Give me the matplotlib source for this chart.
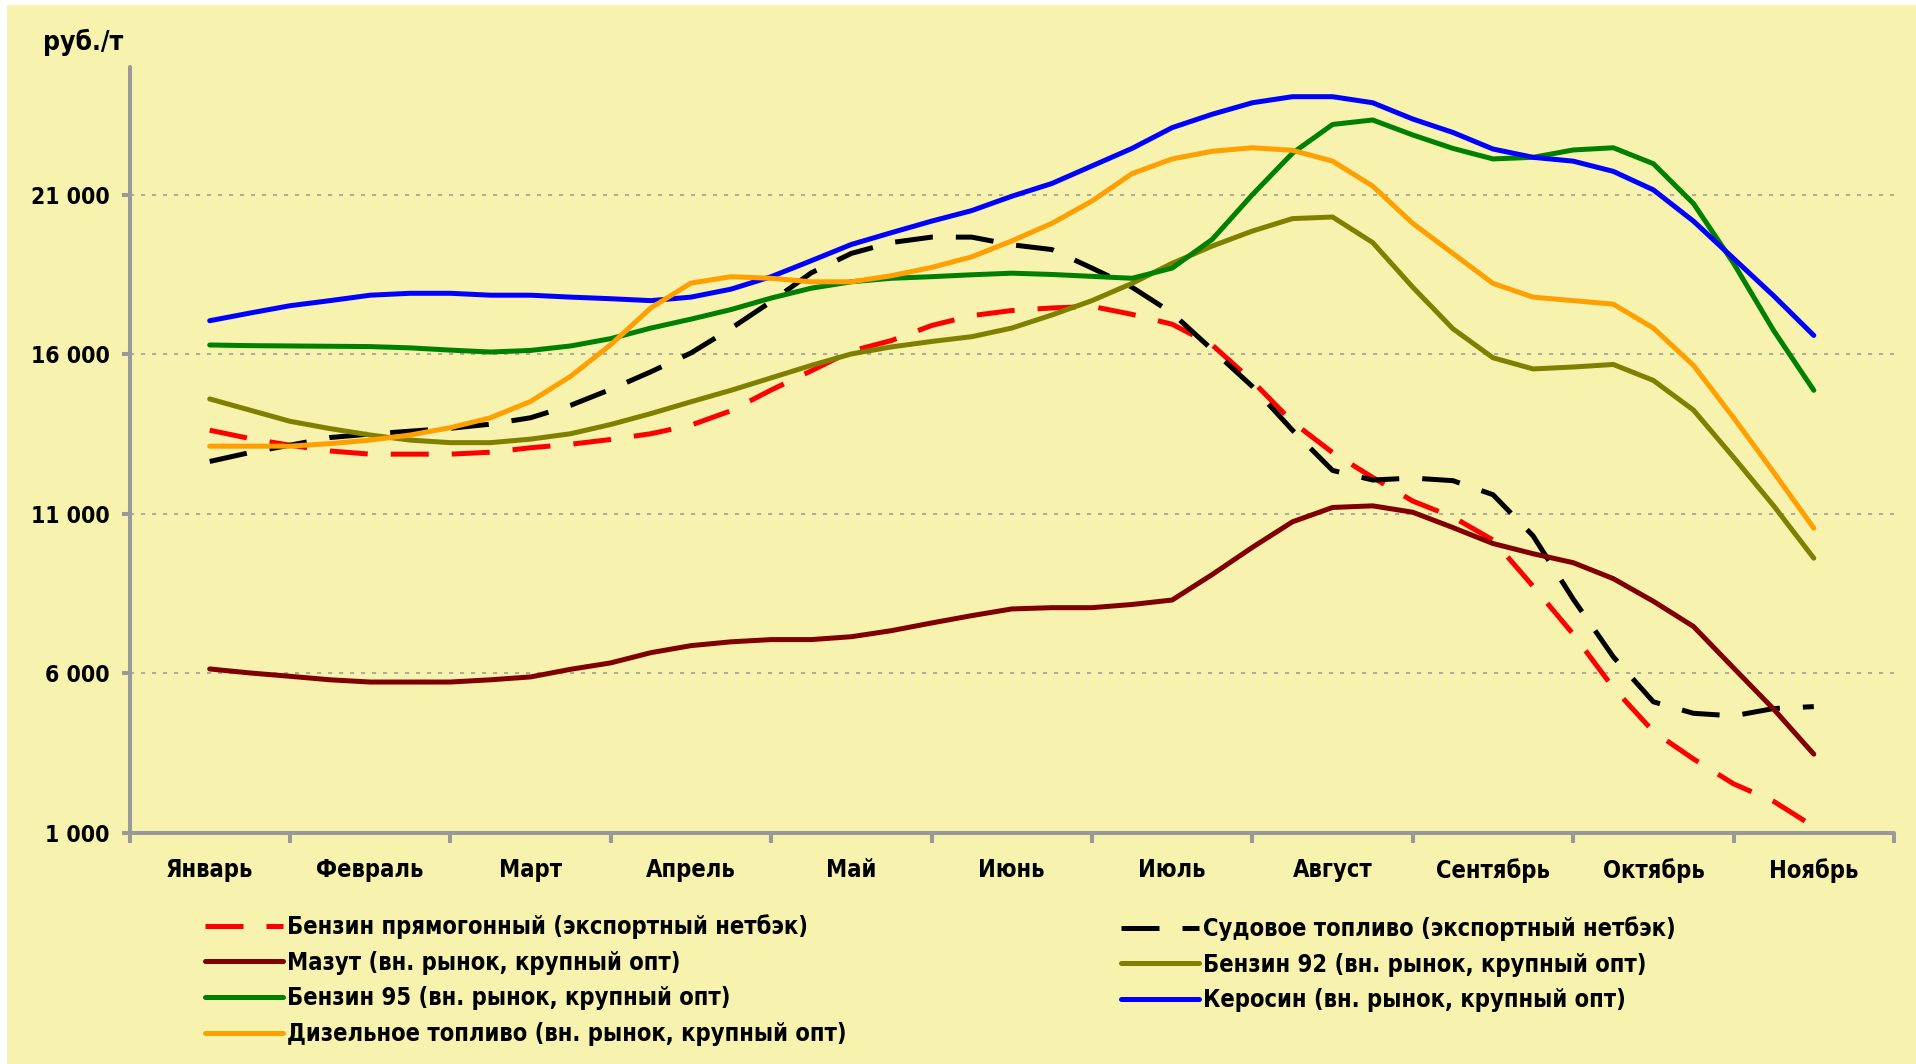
import matplotlib
matplotlib.use("Agg")
import matplotlib.pyplot as plt
from matplotlib import font_manager as fm
from matplotlib.patches import Rectangle
import numpy as np

# ---------------- data ----------------
months = ["Январь", "Февраль", "Март", "Апрель", "Май", "Июнь",
          "Июль", "Август", "Сентябрь", "Октябрь", "Ноябрь"]
points_per_month = 4   # weekly observations, 4 per month slot

benzin_pryamogon = [13620, 13360, 13150, 12970, 12870, 12870, 12870, 12930, 13070, 13180,
                    13330, 13510, 13780, 14230, 14880, 15480, 16100, 16430, 16900, 17210,
                    17370, 17450, 17500, 17250, 16940, 16290, 15160, 13880, 12920, 12140,
                    11400, 10900, 10180, 8730, 7230, 5550, 4180, 3320, 2540, 1990, 1200]
sudovoe = [12640, 12920, 13150, 13390, 13500, 13590, 13680, 13810, 14010, 14400,
           14900, 15450, 16040, 16810, 17650, 18550, 19160, 19500, 19670, 19670,
           19430, 19280, 18700, 18100, 17290, 16140, 14990, 13620, 12360, 12060,
           12120, 12040, 11600, 10310, 8330, 6520, 5110, 4750, 4670, 4900, 4960]
mazut = [6140, 6015, 5910, 5800, 5730, 5730, 5730, 5800, 5890, 6130,
         6330, 6650, 6870, 6990, 7060, 7060, 7150, 7340, 7580, 7810,
         8020, 8060, 8060, 8160, 8300, 9100, 9950, 10750, 11200, 11250,
         11050, 10570, 10070, 9750, 9470, 8970, 8260, 7470, 6170, 4880, 3470]
benzin92 = [14600, 14250, 13900, 13670, 13470, 13310, 13230, 13230, 13340, 13510,
            13800, 14140, 14510, 14870, 15260, 15650, 16010, 16230, 16400, 16550,
            16820, 17230, 17680, 18220, 18850, 19390, 19860, 20250, 20300, 19500,
            18100, 16800, 15890, 15540, 15600, 15680, 15180, 14250, 12770, 11250, 9610]
benzin95 = [16290, 16270, 16260, 16250, 16240, 16200, 16130, 16070, 16120, 16260,
            16490, 16820, 17100, 17400, 17760, 18070, 18270, 18380, 18430, 18490,
            18540, 18500, 18440, 18380, 18700, 19600, 21000, 22300, 23200, 23340,
            22870, 22450, 22120, 22170, 22400, 22470, 21970, 20720, 18850, 16740, 14870]
kerosin = [17050, 17290, 17520, 17680, 17850, 17910, 17910, 17850, 17850, 17790,
           17740, 17680, 17790, 18040, 18430, 18930, 19440, 19810, 20170, 20500,
           20950, 21350, 21900, 22450, 23100, 23520, 23880, 24070, 24070, 23880,
           23370, 22950, 22430, 22170, 22050, 21730, 21150, 20170, 19000, 17830, 16590]
dizel = [13120, 13120, 13120, 13200, 13310, 13470, 13700, 14010, 14520, 15310,
         16300, 17450, 18230, 18430, 18380, 18270, 18270, 18460, 18720, 19050,
         19550, 20100, 20800, 21660, 22120, 22360, 22470, 22390, 22050, 21270,
         20100, 19160, 18220, 17790, 17680, 17570, 16820, 15650, 14010, 12300, 10550]

y_ticks = [1000, 6000, 11000, 16000, 21000]
y_unit = "руб./т"

labels = {
    "red": "Бензин прямогонный (экспортный нетбэк)",
    "black": "Судовое топливо (экспортный нетбэк)",
    "maroon": "Мазут (вн. рынок, крупный опт)",
    "olive": "Бензин 92 (вн. рынок, крупный опт)",
    "green": "Бензин 95 (вн. рынок, крупный опт)",
    "blue": "Керосин (вн. рынок, крупный опт)",
    "orange": "Дизельное топливо (вн. рынок, крупный опт)",
}

# ---------------- style ----------------
have_cond = any(("DejaVuSansCondensed" in f.fname) for f in fm.fontManager.ttflist)
plt.rcParams["font.family"] = ["DejaVu Sans"]
plt.rcParams["font.weight"] = "bold"
if have_cond:
    plt.rcParams["font.stretch"] = "condensed"
    FS = 17.0
    FSY = 16.5
    FSU = 19.0
else:
    FS = 15.5
    FSY = 15.0
    FSU = 17.0

BG = "#F7F2AE"
AXC = "#999999"
W, H = 1916, 1064

fig = plt.figure(figsize=(W / 100, H / 100), dpi=100, facecolor="white")
fig.patches.append(Rectangle((7 / W, 0), 1 - 7 / W, 1 - 5 / H, transform=fig.transFigure,
                             facecolor=BG, edgecolor="none", zorder=-10))

ax = fig.add_axes([129.5 / W, 1 - 833 / H, (1894 - 129.5) / W, (833 - 67) / H])
ax.patch.set_alpha(0)

n = len(kerosin)
x = np.arange(n) / points_per_month

LW = 3.6
dash = (0, (7.6, 4.6))
series = [
    (benzin_pryamogon, "#FF0000", dash, labels["red"]),
    (sudovoe, "#000000", dash, labels["black"]),
    (mazut, "#800000", "-", labels["maroon"]),
    (benzin92, "#808000", "-", labels["olive"]),
    (benzin95, "#008000", "-", labels["green"]),
    (kerosin, "#0000FF", "-", labels["blue"]),
    (dizel, "#FFA000", "-", labels["orange"]),
]
handles = {}
for vals, col, ls, lab in series:
    ln, = ax.plot(x, vals, color=col, lw=LW, linestyle=ls, solid_capstyle="round",
                  dash_capstyle="butt", solid_joinstyle="round", label=lab, zorder=3)
    handles[lab] = ln

ax.set_xlim(-0.5, 10.5)
ax.set_ylim(1000, 25000)

for s in ["top", "right"]:
    ax.spines[s].set_visible(False)
for s in ["left", "bottom"]:
    ax.spines[s].set_color(AXC)
    ax.spines[s].set_linewidth(2.9)
    ax.spines[s].set_capstyle("round")
    ax.spines[s].set_zorder(4)

ax.set_yticks(y_ticks)
ax.set_yticklabels([f"{v:,}".replace(",", " ") for v in y_ticks])
ax.tick_params(axis="y", direction="out", length=5.8, width=2.9, color=AXC,
               pad=8.6, labelsize=FSY)

ax.set_xticks(np.arange(-0.5, 11.0, 1.0))
ax.set_xticklabels([])
ax.set_xticks(np.arange(len(months)), minor=True)
ax.set_xticklabels(months, minor=True)
ax.tick_params(axis="x", which="major", direction="out", length=7, width=2.9, color=AXC)
ax.tick_params(axis="x", which="minor", length=0, pad=18, labelsize=FS)

for v in y_ticks[1:]:
    ax.axhline(v, color=AXC, lw=1.1, linestyle=(0, (2.7, 4.5)), zorder=1)

fig.text(43 / W, 1 - 50 / H, y_unit, ha="left", va="baseline", fontsize=FSU,
         fontweight="bold")

# ---------------- legend (two columns) ----------------
left_labels = [labels["red"], labels["maroon"], labels["green"], labels["orange"]]
right_labels = [labels["black"], labels["olive"], labels["blue"]]
fs_px = FS * 100 / 72
leg_kw = dict(frameon=False, fontsize=FS, handlelength=78 / fs_px,
              handletextpad=4 / fs_px, labelspacing=0.5, borderpad=0,
              borderaxespad=0, loc="upper left")
leg1 = fig.legend([handles[l] for l in left_labels], left_labels,
                  bbox_to_anchor=(205 / W, 1 - 914 / H), **leg_kw)
leg2 = fig.legend([handles[l] for l in right_labels], right_labels,
                  bbox_to_anchor=(1121 / W, 1 - 916 / H), **leg_kw)

fig.savefig("out.png", dpi=100, facecolor=fig.get_facecolor())
